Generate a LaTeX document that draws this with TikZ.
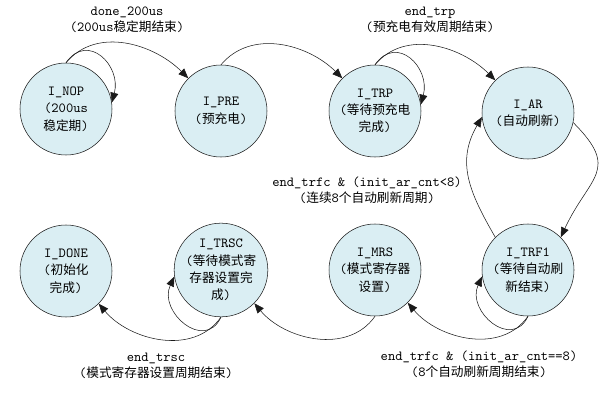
\documentclass[tikz,border=0pt]{standalone}
\usepackage{fontspec}
\usepackage{tikz}
\usetikzlibrary{arrows.meta,positioning}
\setmainfont{Noto Sans CJK SC}
\definecolor{StateFill}{HTML}{DAEEF3}
\definecolor{StateInk}{HTML}{1A1A1A}
\newcommand\lt[1]{{\ttfamily\fontsize{10.4}{12.5}\selectfont #1}}
\tikzset{
  >={Triangle[length=2.6mm,width=2.1mm]},
  trans/.style={->,thin,draw=StateInk},
  state/.style={circle,draw=StateInk,fill=StateFill,thin,minimum size=69pt,
    inner sep=0pt,align=center,font=\fontsize{9.5}{13}\selectfont},
  cond/.style={align=center,inner sep=0pt,font=\fontsize{9.5}{12}\selectfont}
}

\begin{document}
\begin{tikzpicture}[x=0.75pt,y=-0.75pt]
    \useasboundingbox (0,0) rectangle (610,402);
    % first row
    \node[state] (nop) at (66,109) {\lt{I\_NOP}\\\lt{(200us}\\稳定期\lt{)}};
    \node[state] (pre) at (221,111) {\lt{I\_PRE}\\\lt{(}预充电\lt{)}};
    \node[state] (trp) at (375,111) {\lt{I\_TRP}\\\lt{(}等待预充电\\完成\lt{)}};
    \node[state] (ar) at (528,113) {\lt{I\_AR}\\\lt{(}自动刷新\lt{)}};
    % second row
    \node[state] (done) at (66,271) {\lt{I\_DONE}\\\lt{(}初始化\\完成\lt{)}};
    \node[state] (trsc) at (221,270) {\lt{I\_TRSC}\\\lt{(}等待模式寄\\存器设置完\\成\lt{)}};
    \node[state] (mrs) at (375,270) {\lt{I\_MRS}\\\lt{(}模式寄存器\\设置\lt{)}};
    \node[state] (trf) at (528,270) {\lt{I\_TRF1}\\\lt{(}等待自动刷\\新结束\lt{)}};
    % conditions
    \node[cond] (c1) at (127,20) {\lt{done\_200us}\\\lt{(200us}稳定期结束\lt{)}};
    \node[cond] (c2) at (430,20) {\lt{end\_trp}\\\lt{(}预充电有效周期结束\lt{)}};
    \node[cond] (c3) at (367,190) {\lt{end\_trfc \& (init\_ar\_cnt<8)}\\\lt{(}连续\lt{8}个自动刷新周期\lt{)}};
    \node[cond] (c4) at (479,364) {\lt{end\_trfc \& (init\_ar\_cnt==8)}\\\lt{(8}个自动刷新周期结束\lt{)}};
    \node[cond] (c5) at (156,366) {\lt{end\_trsc}\\\lt{(}模式寄存器设置周期结束\lt{)}};
    % transitions
    \draw[trans] (nop.north) to[out=55,in=75,looseness=1.6] (nop.8);
    \draw[trans] (nop.north) to[out=50,in=135] (pre.135);
    \draw[trans] (pre.north) to[out=50,in=135] (trp.135);
    \draw[trans] (trp.north) to[out=55,in=75,looseness=1.6] (trp.8);
    \draw[trans] (trp.north) to[out=50,in=135] (ar.135);
    \draw[trans] (ar.-12) to[out=-45,in=65,looseness=1.5] (trf.45);
    \draw[trans] (trf.135) to[out=120,in=-120,looseness=1.1] (ar.185);
    \draw[trans] (trf.south) to[out=-115,in=-115,looseness=1.6] (trf.188);
    \draw[trans] (trf.south) to[out=-125,in=-50] (mrs.-45);
    \draw[trans] (mrs.south) to[out=-125,in=-50] (trsc.-45);
    \draw[trans] (trsc.south) to[out=-115,in=-115,looseness=1.6] (trsc.188);
    \draw[trans] (trsc.south) to[out=-125,in=-50] (done.-45);
\end{tikzpicture}
\end{document}
